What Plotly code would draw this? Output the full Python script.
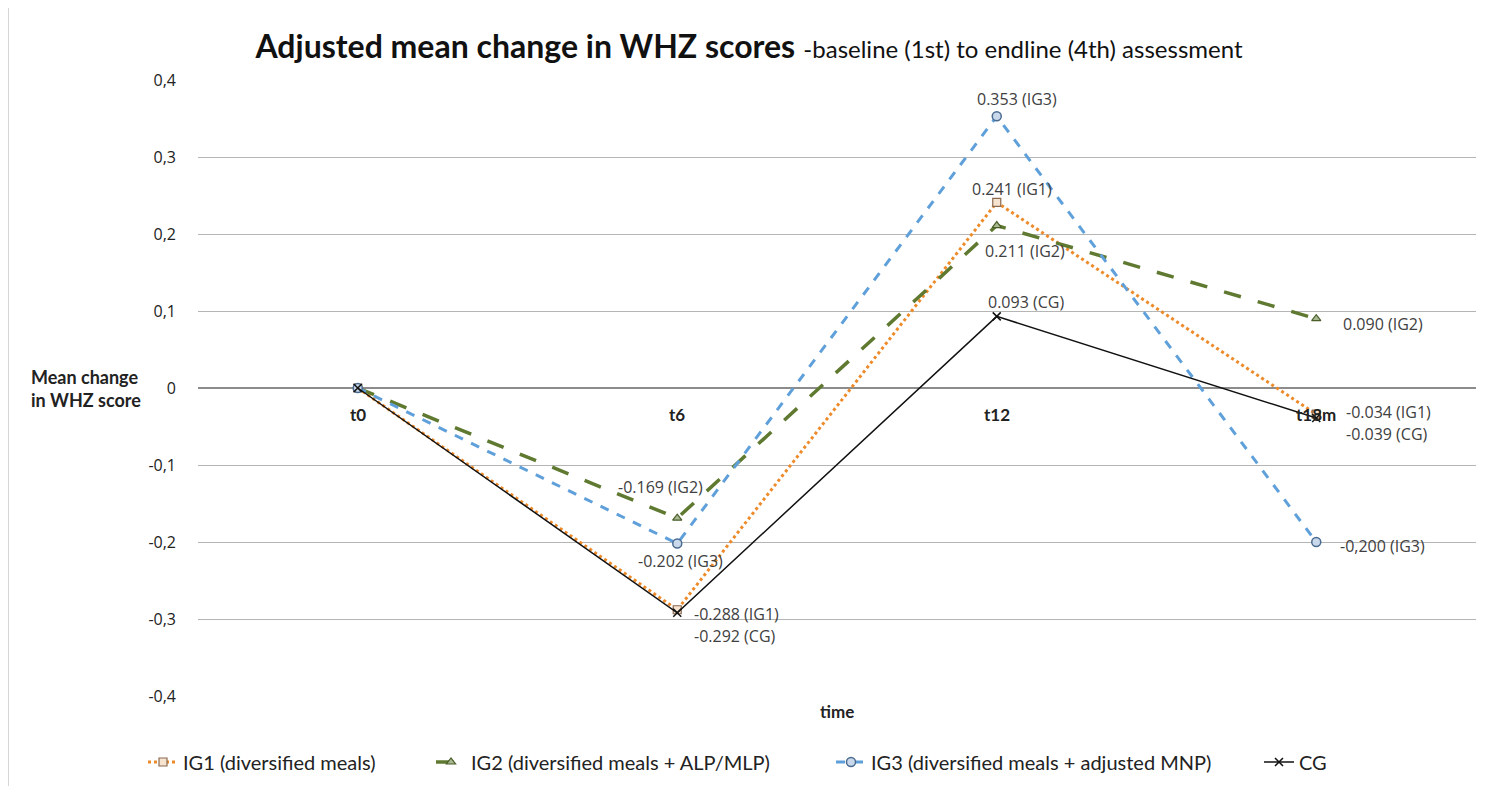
import plotly.graph_objects as go

categories = ["t0", "t6", "t12", "t18m"]
ig1 = [0, -0.288, 0.241, -0.034]
ig2 = [0, -0.169, 0.211, 0.090]
ig3 = [0, -0.202, 0.353, -0.200]
cg = [0, -0.292, 0.093, -0.039]

series_names = ["IG1 (diversified meals)", "IG2 (diversified meals + ALP/MLP)",
                "IG3 (diversified meals + adjusted MNP)", "CG"]

y_ticks = [0.4, 0.3, 0.2, 0.1, 0, -0.1, -0.2, -0.3, -0.4]
y_tick_text = ["0,4", "0,3", "0,2", "0,1", "0", "-0,1", "-0,2", "-0,3", "-0,4"]

# point labels: (category, value, text)
point_labels = [
    ("t6", -0.169, "-0.169 (IG2)"),
    ("t6", -0.202, "-0.202 (IG3)"),
    ("t6", -0.288, "-0.288 (IG1)"),
    ("t6", -0.292, "-0.292 (CG)"),
    ("t12", 0.353, "0.353 (IG3)"),
    ("t12", 0.241, "0.241 (IG1)"),
    ("t12", 0.211, "0.211 (IG2)"),
    ("t12", 0.093, "0.093 (CG)"),
    ("t18m", 0.090, "0.090 (IG2)"),
    ("t18m", -0.034, "-0.034 (IG1)"),
    ("t18m", -0.039, "-0.039 (CG)"),
    ("t18m", -0.200, "-0,200 (IG3)"),
]
# label placement (anchor, x shift px, y shift px), one per label above
label_place = [
    ("center", -17, 31),
    ("center", 3, -17),
    ("left", 15, -4),
    ("left", 15, -23),
    ("center", 20, 17),
    ("center", 15, 13),
    ("center", 28, -25),
    ("center", 29, 14),
    ("left", 25, -5),
    ("left", 28, 2),
    ("left", 28, -16),
    ("left", 22, -4),
]

W, H = 1491, 778
ML, MR, MT, MB = 190, 23, 72, 90
OFF = 8  # page body margin

fig = go.Figure()

legend_text_start = [174, 462, 862, 1290]
legend_names = ["legend", "legend2", "legend3", "legend4"]

fig.add_trace(go.Scatter(
    x=categories, y=ig1, name=series_names[0], mode="lines+markers", legend=legend_names[0],
    line=dict(color="#ED8B2B", width=3, dash="dot"),
    marker=dict(symbol="square", size=8, color="#F6E3D0", line=dict(color="#8A6A50", width=1.2)),
))
fig.add_trace(go.Scatter(
    x=categories, y=ig2, name=series_names[1], mode="lines+markers", legend=legend_names[1],
    line=dict(color="#5F7A30", width=3.5, dash="longdash"),
    marker=dict(symbol="triangle-up", size=8, color="#A8B890", line=dict(color="#4A5E2A", width=1.2)),
))
fig.add_trace(go.Scatter(
    x=categories, y=ig3, name=series_names[2], mode="lines+markers", legend=legend_names[2],
    line=dict(color="#5FA0DA", width=3, dash="dash"),
    marker=dict(symbol="circle", size=9, color="#C9D8EA", line=dict(color="#4A6A90", width=1.5)),
))
fig.add_trace(go.Scatter(
    x=categories, y=cg, name=series_names[3], mode="lines+markers", legend=legend_names[3],
    line=dict(color="#111111", width=1.5),
    marker=dict(symbol="x-thin", size=8, color="#111111", line=dict(color="#111111", width=1.5)),
))

for (cat, val, txt), (anc, dx, dy) in zip(point_labels, label_place):
    fig.add_annotation(x=cat, y=val, text=txt, showarrow=False,
                       xanchor=anc, yanchor="middle", xshift=dx, yshift=dy,
                       font=dict(family="Open Sans, sans-serif", size=16, color="#404040"))

# category labels next to zero line
for cat in categories:
    fig.add_annotation(x=cat, y=0, text="<b>%s</b>" % cat, showarrow=False,
                       yanchor="top", yshift=-14,
                       font=dict(family="Lato, sans-serif", size=17, color="#222222"))

fig.add_annotation(xref="paper", yref="paper", x=0.5, y=-0.005, text="<b>time</b>",
                   showarrow=False, yanchor="top",
                   font=dict(family="Lato, sans-serif", size=17, color="#222222"))
pw = W - ML - MR
fig.add_annotation(xref="paper", yref="y", x=(29 - OFF - ML) / pw, y=0,
                   text="<b>Mean change<br>in WHZ score</b>",
                   showarrow=False, xanchor="left", yanchor="middle", align="left",
                   font=dict(family="Lato, sans-serif", size=18, color="#222222"))

# outer frame (left and right edges)
for fx in [0, 1484]:
    fig.add_shape(type="line", xref="paper", yref="paper",
                  x0=(fx - ML) / pw, x1=(fx - ML) / pw, y0=-0.2, y1=1.2,
                  line=dict(color="#C8C8C8", width=1.5), layer="below")

legend_common = dict(orientation="h", xref="container", yref="container",
                     y=1 - (762 - OFF) / H, xanchor="left", yanchor="middle",
                     font=dict(family="Lato, sans-serif", size=20, color="#222222"),
                     itemwidth=30, bgcolor="rgba(0,0,0,0)")
legends = {}
for name, ts in zip(legend_names, legend_text_start):
    legends[name] = dict(x=(ts - 31 - OFF) / W, **legend_common)

fig.update_layout(
    width=W, height=H,
    paper_bgcolor="white", plot_bgcolor="white",
    margin=dict(l=ML, r=MR, t=MT, b=MB),
    title=dict(
        text="<b>Adjusted mean change in WHZ scores</b> <span style='font-size:24px'>-baseline (1st) to endline (4th) assessment</span>",
        x=(749 - OFF) / W, xanchor="center", xref="container", y=1 - (47 - OFF) / H, yanchor="middle",
        font=dict(family="Lato, sans-serif", size=32, color="#111111"),
    ),
    xaxis=dict(showticklabels=False, showgrid=False, zeroline=False, showline=False,
               range=[-0.5, 3.5], ticks=""),
    yaxis=dict(range=[-0.4, 0.4], tickvals=y_ticks, ticktext=y_tick_text,
               showgrid=True, gridcolor="#B5B5B5", gridwidth=1,
               zeroline=True, zerolinecolor="#8C8C8C", zerolinewidth=1.5,
               showline=False, ticks="", ticklabelstandoff=21,
               tickfont=dict(family="Open Sans, sans-serif", size=16, color="#222222")),
    showlegend=True,
    **legends,
)

fig.write_html("out.html")
